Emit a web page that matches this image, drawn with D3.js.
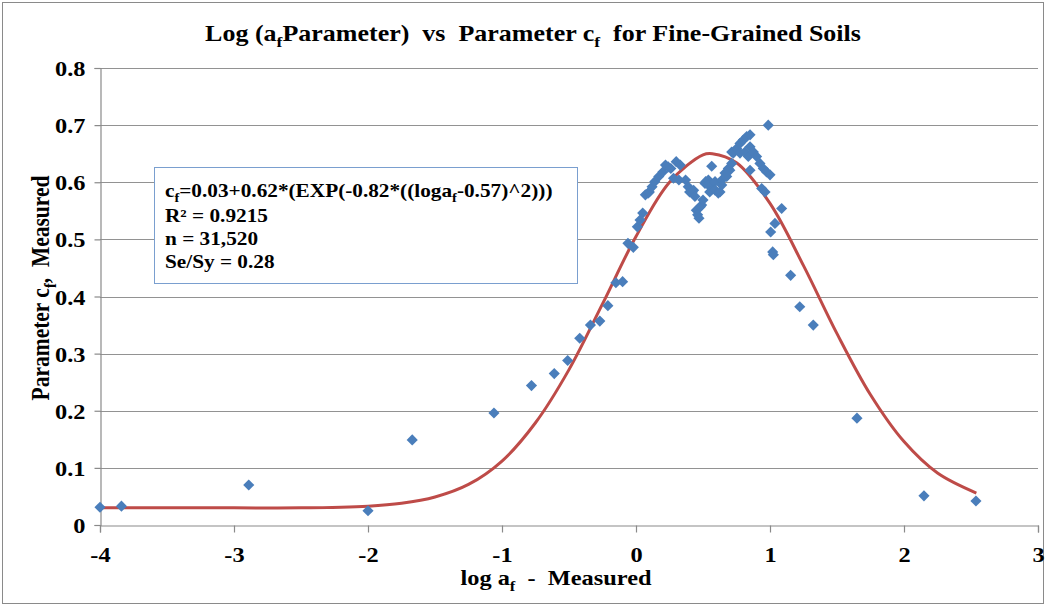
<!DOCTYPE html>
<html>
<head>
<meta charset="utf-8">
<script src="https://cdn.jsdelivr.net/npm/d3@7"></script>
<style>
  html, body { margin: 0; padding: 0; background: #fff; }
  svg text { font-family: "Liberation Serif", "Times New Roman", serif; font-weight: bold; fill: #000; white-space: pre; }
</style>
</head>
<body>
<svg id="chart" width="1047" height="607"></svg>
<script>
// ---- data ----
const logAf = [
  -4.00, -3.84, -2.89, -2.00, -1.67, -1.06, -0.78, -0.61, -0.51, -0.42,
  -0.34, -0.27, -0.21, -0.15, -0.10, -0.06, -0.02, 0.01, 0.03, 0.05,
  0.07, 0.09, 0.10, 0.12, 0.14, 0.17, 0.20, 0.22, 0.24, 0.26,
  0.28, 0.30, 0.32, 0.33, 0.37, 0.39, 0.40, 0.42, 0.43, 0.44,
  0.45, 0.46, 0.47, 0.48, 0.49, 0.50, 0.515, 0.52, 0.54, 0.54,
  0.55, 0.565, 0.577, 0.59, 0.59, 0.614, 0.627, 0.64, 0.64, 0.664,
  0.677, 0.689, 0.70, 0.714, 0.714, 0.726, 0.751, 0.776, 0.776, 0.801,
  0.813, 0.826, 0.838, 0.851, 0.851, 0.851, 0.876, 0.90, 0.925, 0.938,
  0.95, 0.963, 0.975, 0.987, 1.00, 1.005, 1.02, 1.025, 1.037, 1.087,
  1.154, 1.222, 1.323, 1.649, 2.149, 2.537
];
const cfMeasured = [
  0.031, 0.033, 0.070, 0.025, 0.149, 0.196, 0.244, 0.265, 0.288, 0.327,
  0.350, 0.357, 0.384, 0.424, 0.426, 0.493, 0.486, 0.522, 0.534, 0.546,
  0.578, 0.581, 0.583, 0.592, 0.601, 0.610, 0.618, 0.630, 0.627, 0.624,
  0.607, 0.636, 0.604, 0.630, 0.604, 0.592, 0.583, 0.583, 0.586, 0.575,
  0.551, 0.543, 0.537, 0.557, 0.560, 0.569, 0.598, 0.601, 0.604, 0.595,
  0.583, 0.628, 0.589, 0.601, 0.586, 0.581, 0.583, 0.604, 0.595, 0.616,
  0.610, 0.624, 0.621, 0.633, 0.653, 0.651, 0.659, 0.668, 0.651, 0.674,
  0.653, 0.680, 0.645, 0.683, 0.662, 0.621, 0.653, 0.645, 0.633, 0.589,
  0.624, 0.583, 0.618, 0.700, 0.613, 0.513, 0.478, 0.473, 0.528, 0.554,
  0.437, 0.382, 0.350, 0.187, 0.051, 0.042
];
// fitted curve
const fitX = [-4, -3.5, -3, -2.5, -2, -1.75, -1.5, -1.25, -1, -0.75, -0.5, -0.25, 0, 0.25, 0.5, 0.57, 0.75, 1, 1.25, 1.5, 1.75, 2, 2.25, 2.54];
const fitY = [0.030, 0.030, 0.030, 0.030, 0.033, 0.038, 0.049, 0.071, 0.112, 0.179, 0.272, 0.387, 0.505, 0.600, 0.648, 0.650, 0.634, 0.563, 0.454, 0.335, 0.228, 0.146, 0.091, 0.056];

const xTicks = [-4, -3, -2, -1, 0, 1, 2, 3];
const yTicks = [0, 0.1, 0.2, 0.3, 0.4, 0.5, 0.6, 0.7, 0.8];
const yTickLabels = ["0", "0.1", "0.2", "0.3", "0.4", "0.5", "0.6", "0.7", "0.8"];

const titleParts = [["Log (a", false], ["f", true], ["Parameter)  vs  Parameter c", false], ["f", true], ["  for Fine-Grained Soils", false]];
const xTitleParts = [["log a", false], ["f", true], ["  -  Measured", false]];
const yTitleParts = [["Parameter c", false], ["f", true], [",  Measured", false]];
const legendLines = [
  [["c", false], ["f", true], ["=0.03+0.62*(EXP(-0.82*((loga", false], ["f", true], ["-0.57)^2)))", false]],
  [["R² = 0.9215", false]],
  [["n = 31,520", false]],
  [["Se/Sy = 0.28", false]]
];

// ---- drawing ----
const SX = 1.16; // horizontal stretch of the reference text
const svg = d3.select("#chart");
const x = d3.scaleLinear().domain([-4, 3]).range([100, 1038]);
const y = d3.scaleLinear().domain([0, 0.8]).range([525, 68]);

svg.append("rect").attr("x", 2.5).attr("y", 2.5).attr("width", 1041).attr("height", 601)
  .attr("fill", "#fff").attr("stroke", "#8a8a8a").attr("stroke-width", 1);

function richText(parent, parts, size, transform, anchor) {
  const t = parent.append("text").attr("transform", transform)
    .attr("text-anchor", anchor).style("font-size", size + "px");
  let shifted = false;
  parts.forEach(([s, sub]) => {
    const ts = t.append("tspan").text(s);
    if (sub && !shifted) { ts.attr("dy", size * 0.28).style("font-size", (size * 0.68) + "px"); shifted = true; }
    else if (!sub && shifted) { ts.attr("dy", -size * 0.28); shifted = false; }
    else if (sub) { ts.style("font-size", (size * 0.68) + "px"); }
  });
  return t;
}

// gridlines
svg.append("g").selectAll("line").data(yTicks.filter(d => d > 0)).join("line")
  .attr("x1", x(-4)).attr("x2", x(3))
  .attr("y1", d => Math.round(y(d)) + 0.5).attr("y2", d => Math.round(y(d)) + 0.5)
  .attr("stroke", "#929292").attr("stroke-width", 1.2);

// axes
const yAxis = svg.append("g").attr("transform", "translate(100.5,0)")
  .call(d3.axisLeft(y).tickValues(yTicks).tickSizeOuter(0).tickSize(6)
    .tickFormat((d, i) => yTickLabels[i]));
const xAxis = svg.append("g").attr("transform", "translate(0,525.5)")
  .call(d3.axisBottom(x).tickValues(xTicks).tickSizeOuter(0).tickSize(7).tickFormat(d3.format("d")));
[yAxis, xAxis].forEach(a => {
  a.select(".domain").attr("stroke", "#8a8a8a").attr("stroke-width", 1.2);
  a.selectAll(".tick line").attr("stroke", "#8a8a8a").attr("stroke-width", 1.2);
  a.selectAll(".tick text").style("font-family", "'Liberation Serif', serif").style("font-weight", "bold")
    .style("font-size", "21px").attr("fill", "#000");
});
yAxis.selectAll(".tick text").attr("x", 0).attr("dy", 0)
  .attr("transform", `translate(-15,7.5) scale(${SX},1)`);
xAxis.selectAll(".tick text").attr("y", 0).attr("dy", 0)
  .attr("transform", `translate(0,36) scale(${SX},1)`)
  .text(d => d < 0 ? "-" + Math.abs(d) : String(d));

// fitted curve
svg.append("path")
  .datum(fitX.map((d, i) => [d, fitY[i]]))
  .attr("fill", "none").attr("stroke", "#be4b48").attr("stroke-width", 3)
  .attr("d", d3.line().x(d => x(d[0])).y(d => y(d[1])).curve(d3.curveCatmullRom.alpha(0.5)));

// points
const diamond = d3.symbol().type(d3.symbolSquare).size(62);
svg.append("g").selectAll("path").data(logAf.map((d, i) => [d, cfMeasured[i]])).join("path")
  .attr("d", diamond)
  .attr("transform", d => `translate(${x(d[0])},${y(d[1])}) rotate(45)`)
  .attr("fill", "#4a7ebb");

// legend box
const lg = svg.append("g");
lg.append("rect").attr("x", 154.5).attr("y", 167.5).attr("width", 423).attr("height", 116)
  .attr("fill", "#fff").attr("stroke", "#7a9fcf").attr("stroke-width", 1);
const lineY = [197, 222, 245, 268];
legendLines.forEach((parts, i) => {
  richText(lg, parts, 18.5, `translate(165,${lineY[i]}) scale(1.15,1)`, "start");
});

// titles
richText(svg, titleParts, 23, `translate(533,41) scale(1.13,1)`, "middle");
richText(svg, xTitleParts, 21, `translate(556,585) scale(${SX},1)`, "middle");
richText(svg, yTitleParts, 21.5, `translate(49,288) rotate(-90) scale(1,${SX})`, "middle");
</script>
</body>
</html>
